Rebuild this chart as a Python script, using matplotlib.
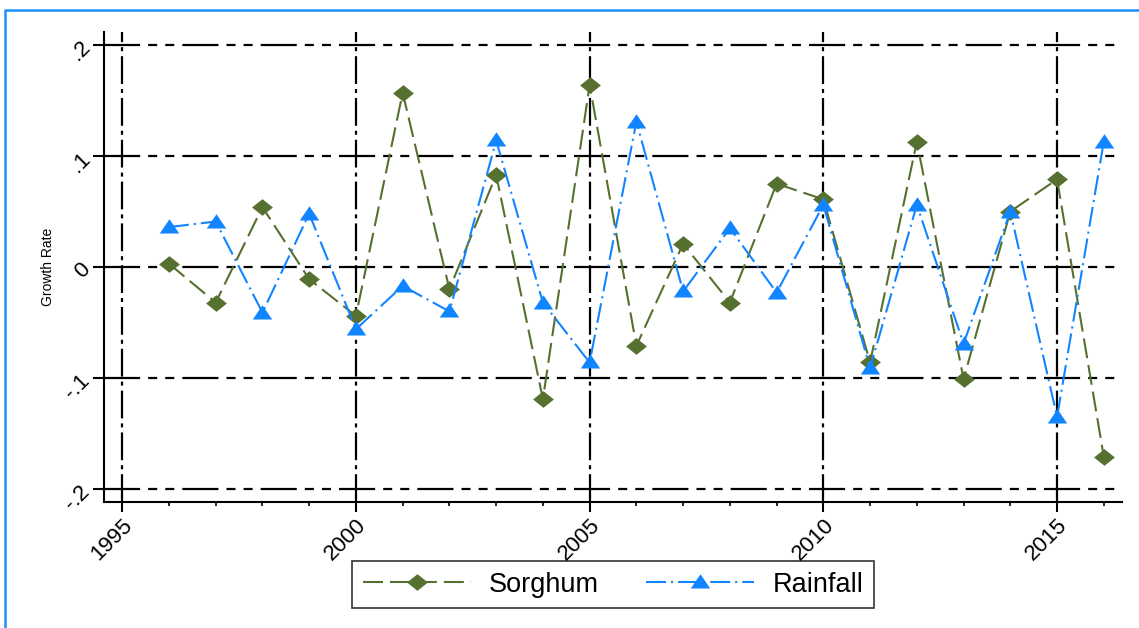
import matplotlib
matplotlib.use("Agg")
import matplotlib.pyplot as plt
from matplotlib.lines import Line2D
from matplotlib.path import Path

years = list(range(1996, 2017))
sorghum = [0.003, -0.032, 0.054, -0.011, -0.044, 0.157, -0.020, 0.083, -0.119, 0.164,
           -0.071, 0.021, -0.032, 0.075, 0.061, -0.086, 0.113, -0.101, 0.050, 0.079, -0.171]
rainfall = [0.036, 0.041, -0.041, 0.048, -0.056, -0.017, -0.040, 0.114, -0.032, -0.086,
            0.131, -0.022, 0.035, -0.023, 0.056, -0.091, 0.056, -0.069, 0.050, -0.135, 0.113]
x_ticks = [1995, 2000, 2005, 2010, 2015]
y_ticks = [-0.2, -0.1, 0.0, 0.1, 0.2]
y_tick_labels = ["-.2", "-.1", "0", ".1", ".2"]

GREEN = "#55702F"
BLUE = "#1185FF"

plt.rcParams["font.family"] = ["Liberation Sans", "DejaVu Sans"]
plt.rcParams["lines.scale_dashes"] = False

# flattened diamond and triangle markers like the Stata ones
diamond = Path([(-1, 0), (0, 0.8), (1, 0), (0, -0.8), (-1, 0)],
               [Path.MOVETO, Path.LINETO, Path.LINETO, Path.LINETO, Path.CLOSEPOLY])
triangle = Path([(-1, -0.62), (1, -0.62), (0, 0.85), (-1, -0.62)],
                [Path.MOVETO, Path.LINETO, Path.LINETO, Path.CLOSEPOLY])

fig = plt.figure(figsize=(11.39, 6.28), dpi=100)
ax = fig.add_axes([0.0913, 0.2006, 0.8938, 0.7484])

# grid lines
for yv in y_ticks:
    ax.axhline(yv, color="black", lw=1.6, zorder=1,
               dashes=(26, 5.8, 6.5, 5.8, 6.5, 5.8))
for xv in x_ticks:
    ax.axvline(xv, color="black", lw=1.6, zorder=1,
               dashes=(20, 3.6, 2.9, 3.6))

ax.plot(years, sorghum, color=GREEN, lw=1.5, dashes=(14.4, 5),
        marker=diamond, markersize=15, markeredgewidth=0, label="Sorghum", zorder=3)
ax.plot(years, rainfall, color=BLUE, lw=1.5, dashes=(14.4, 3.6, 1.5, 3.6),
        marker=triangle, markersize=14, markeredgewidth=0, label="Rainfall", zorder=3)

ax.set_xlim(1994.61, 2016.39)
ax.set_ylim(-0.2117, 0.2117)

ax.set_xticks(x_ticks)
ax.set_xticks(range(1995, 2017), minor=True)
ax.set_yticks(y_ticks)
ax.set_yticklabels(y_tick_labels)
for lab in ax.get_xticklabels():
    lab.set_rotation(45)
    lab.set_ha("right")
    lab.set_va("top")
    lab.set_rotation_mode("anchor")
for lab in ax.get_yticklabels():
    lab.set_rotation(45)
ax.tick_params(axis="x", which="major", length=7, width=1.5, labelsize=16, pad=2)
ax.tick_params(axis="x", which="minor", length=3, width=1.2)
ax.tick_params(axis="y", which="major", length=8, width=1.5, labelsize=16, pad=-1)

for side in ["top", "right"]:
    ax.spines[side].set_visible(False)
for side in ["left", "bottom"]:
    ax.spines[side].set_linewidth(1.5)

ax.set_ylabel("Growth Rate", fontsize=10, labelpad=4)

leg = ax.legend(loc="center", bbox_to_anchor=(0.5, -0.1755), ncol=2, fontsize=19.5,
                frameon=True, fancybox=False, handlelength=4.0, handletextpad=0.67,
                columnspacing=1.74, borderpad=0.4, borderaxespad=0)
leg.get_frame().set_edgecolor("black")
leg.get_frame().set_linewidth(1.2)

# blue outer frame (top and left edges visible)
fig.add_artist(Line2D([0.0044, 0.0044, 1.0], [0.0, 0.984, 0.984],
                      transform=fig.transFigure, color="#1E90FF", lw=1.8))

fig.savefig("out.png", dpi=100)
